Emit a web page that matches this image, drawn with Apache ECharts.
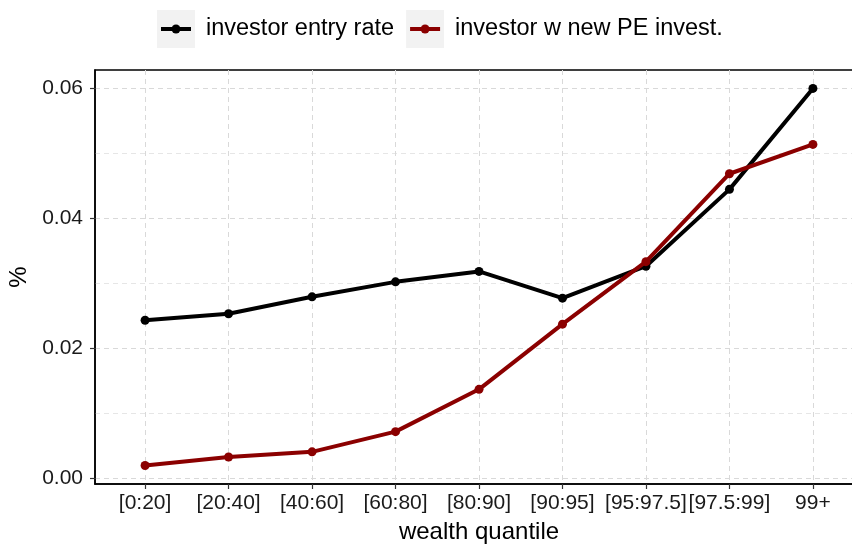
<!DOCTYPE html>
<html>
<head>
<meta charset="utf-8">
<script src="https://cdn.jsdelivr.net/npm/echarts@6/dist/echarts.min.js"></script>
<style>
html,body{margin:0;padding:0;background:#fff;}
#chart{width:852px;height:544px;}
</style>
</head>
<body>
<div id="chart"></div>
<script>
const categories = ['[0:20]','[20:40]','[40:60]','[60:80]','[80:90]','[90:95]','[95:97.5]','[97.5:99]','99+'];
const entryRate = [0.0243,0.0253,0.0279,0.0302,0.0318,0.0277,0.0326,0.0444,0.0599];
const newPE = [0.0020,0.0033,0.0041,0.0072,0.0137,0.0237,0.0333,0.0468,0.0513];
const seriesNames = ['investor entry rate','investor w new PE invest.'];
const seriesColors = ['#000000','#8B0000'];
const yMajorTicks = [0, 0.02, 0.04, 0.06];
const yMinorTicks = [0.01, 0.03, 0.05];
const xTicks = categories.map((c,i)=>i);

const FONT = '"Liberation Sans", Arial, Helvetica, sans-serif';

function keyIcon(color){
  const svg = '<svg xmlns="http://www.w3.org/2000/svg" width="38" height="38" viewBox="0 0 38 38">' +
    '<rect x="0" y="0" width="38" height="38" fill="#f2f2f2"/>' +
    '<line x1="4" y1="19" x2="34" y2="19" stroke="'+color+'" stroke-width="4"/>' +
    '<circle cx="19" cy="19" r="4.5" fill="'+color+'"/></svg>';
  return 'image://data:image/svg+xml;charset=utf-8,' + encodeURIComponent(svg);
}

const chart = echarts.init(document.getElementById('chart'), null, {renderer:'canvas'});
const toPairs = arr => arr.map((v,i)=>[i,v]);

chart.setOption({
  animation:false,
  backgroundColor:'#ffffff',
  textStyle:{fontFamily:FONT},
  legend:{
    left:152, top:5,
    itemWidth:38, itemHeight:38, itemGap:12,
    data: seriesNames.map((n,i)=>({name:n, icon:keyIcon(seriesColors[i])})),
    textStyle:{fontSize:23.5, color:'#000', fontFamily:FONT, padding:[0,0,0,6]}
  },
  grid:{left:95, top:70, width:768, height:414, show:true, borderColor:'#000', borderWidth:1.5,
    backgroundColor:'transparent', containLabel:false, outerBoundsMode:'none'},
  xAxis:{
    type:'value', min:-0.6, max:8.6,
    name:'wealth quantile', nameLocation:'middle', nameGap:36,
    nameTextStyle:{fontSize:24, color:'#000', fontFamily:FONT},
    axisLine:{show:true, onZero:false, lineStyle:{color:'#000', width:1.5}},
    axisTick:{show:true, length:5, customValues:xTicks, lineStyle:{color:'#333', width:1.2}},
    axisLabel:{customValues:xTicks, fontSize:21, color:'#1a1a1a', margin:9, fontFamily:FONT,
      formatter:(v)=>categories[Math.round(v)]},
    splitLine:{show:true, lineStyle:{color:'#d9d9d9', width:1, type:[5,4]}}
  },
  yAxis:[{
    type:'value', min:-0.00084, max:0.06273,
    axisLine:{show:true, onZero:false, lineStyle:{color:'#000', width:1.5}},
    axisTick:{show:true, length:5, customValues:yMajorTicks, lineStyle:{color:'#333', width:1.2}},
    axisLabel:{customValues:yMajorTicks, fontSize:21, color:'#1a1a1a', margin:12, fontFamily:FONT,
      formatter:(v)=>v.toFixed(2)},
    splitLine:{show:true, lineStyle:{color:'#d9d9d9', width:1, type:[5,4]}}
  },{
    type:'value', min:-0.00084, max:0.06273, position:'left',
    name:'%', nameLocation:'middle', nameGap:64, nameRotate:90,
    nameTextStyle:{fontSize:24, color:'#000', fontFamily:FONT},
    axisLine:{show:false, onZero:false},
    axisTick:{show:false, customValues:yMinorTicks},
    axisLabel:{show:false, customValues:yMinorTicks},
    splitLine:{show:true, lineStyle:{color:'#e6e6e6', width:1, type:[5,4]}}
  }],
  series: [entryRate, newPE].map((arr,i)=>({
    name:seriesNames[i], type:'line', data:toPairs(arr),
    yAxisIndex:0,
    symbol:'circle', symbolSize:9,
    lineStyle:{color:seriesColors[i], width:4},
    itemStyle:{color:seriesColors[i]},
    z:2+i
  }))
});
</script>
</body>
</html>
